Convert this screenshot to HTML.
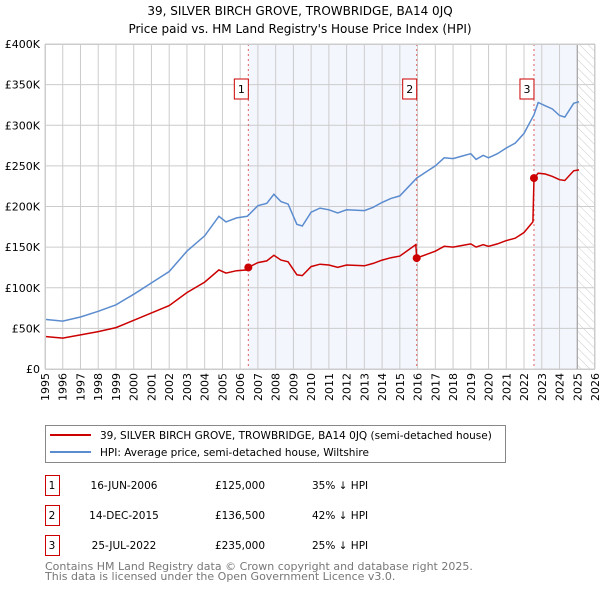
<!DOCTYPE html>
<html><head><meta charset="utf-8"><style>
body{margin:0;background:#fff;font-family:"DejaVu Sans","Liberation Sans",sans-serif;}
svg text{font-family:"DejaVu Sans","Liberation Sans",sans-serif;}
</style></head><body>
<svg id="c" width="600" height="590" viewBox="0 0 600 590" xmlns="http://www.w3.org/2000/svg">
<defs><pattern id="hatch" width="6" height="6" patternUnits="userSpaceOnUse" patternTransform="rotate(-45)"><line x1="0" y1="0" x2="0" y2="6" stroke="#ccc" stroke-width="1"/></pattern></defs>
<text x="300" y="15" text-anchor="middle" font-size="12" fill="#000">39, SILVER BIRCH GROVE, TROWBRIDGE, BA14 0JQ</text>
<text x="300" y="33" text-anchor="middle" font-size="12" fill="#000">Price paid vs. HM Land Registry's House Price Index (HPI)</text>
<g id="plot"></g>
<g>
<rect x="45.5" y="425.5" width="460" height="37" fill="#fff" stroke="#888"/>
<line x1="50" y1="435" x2="91" y2="435" stroke="#cc0000" stroke-width="2"/>
<text x="100" y="439" font-size="10.5">39, SILVER BIRCH GROVE, TROWBRIDGE, BA14 0JQ (semi-detached house)</text>
<line x1="50" y1="452" x2="91" y2="452" stroke="#5b8ccf" stroke-width="2"/>
<text x="100" y="456" font-size="10.5">HPI: Average price, semi-detached house, Wiltshire</text>
</g>
<g id="table" font-size="10.5"></g>
<text x="45" y="570" font-size="11" fill="#777">Contains HM Land Registry data © Crown copyright and database right 2025.</text>
<text x="45" y="580" font-size="11" fill="#777">This data is licensed under the Open Government Licence v3.0.</text>
</svg>
<script>
const hpiYears=[1995,1996,1997,1998,1999,2000,2001,2002,2003,2004,2004.8,2005.2,2005.8,2006.4,2007,2007.5,2007.9,2008.3,2008.7,2009.2,2009.5,2010,2010.5,2011,2011.5,2012,2013,2013.5,2014,2014.5,2015,2015.95,2016.5,2017,2017.5,2018,2018.5,2019,2019.3,2019.7,2020,2020.5,2021,2021.5,2022,2022.56,2022.8,2023.2,2023.6,2024,2024.3,2024.8,2025.1];
const hpiValues=[61,59,64,71,79,92,106,120,145,164,188,181,186,188,201,204,215,206,203,178,176,193,198,196,192,196,195,199,205,210,213,235,243,250,260,259,262,265,258,263,260,265,272,278,290,313,328,324,320,312,310,327,329];
const ppYears=[1995,1996,1997,1998,1999,2000,2001,2002,2003,2004,2004.8,2005.2,2005.8,2006.4,2006.46,2007,2007.5,2007.9,2008.3,2008.7,2009.2,2009.5,2010,2010.5,2011,2011.5,2012,2013,2013.5,2014,2014.5,2015,2015.9,2015.95,2016.5,2017,2017.5,2018,2018.5,2019,2019.3,2019.7,2020,2020.5,2021,2021.5,2022,2022.5,2022.56,2022.8,2023.2,2023.6,2024,2024.3,2024.8,2025.1];
const ppValues=[40,38,42,46,51,60,69,78,94,107,122,118,121,122,125,131,133,140,134,132,116,115,126,129,128,125,128,127,130,134,137,139,153,136.5,141,145,151,150,152,154,150,153,151,154,158,161,168,181,235,241,240,237,233,232,244,245];
const saleYears=[2006.46,2015.95,2022.56];
const saleValues=[125000,136500,235000];
const saleLabels=["1","2","3"];
const saleDates=["16-JUN-2006","14-DEC-2015","25-JUL-2022"];
const salePrices=["£125,000","£136,500","£235,000"];
const saleDiffs=["35% ↓ HPI","42% ↓ HPI","25% ↓ HPI"];
const yTicks=[0,50,100,150,200,250,300,350,400];
const yTickLabels=["£0","£50K","£100K","£150K","£200K","£250K","£300K","£350K","£400K"];
const xTicks=[1995,1996,1997,1998,1999,2000,2001,2002,2003,2004,2005,2006,2007,2008,2009,2010,2011,2012,2013,2014,2015,2016,2017,2018,2019,2020,2021,2022,2023,2024,2025,2026];

const NS="http://www.w3.org/2000/svg";
const L=45,R=595,T=44,B=369;
const xs=y=>L+(y-1995)*(R-L)/31;
const ys=v=>B-v*(B-T)/400;
const plot=document.getElementById('plot');
function mk(tag,attrs,parent){const e=document.createElementNS(NS,tag);for(const k in attrs)e.setAttribute(k,attrs[k]);(parent||plot).appendChild(e);return e;}
const sh1=mk('rect',{x:xs(saleYears[0]),y:T,width:xs(saleYears[1])-xs(saleYears[0]),height:B-T,fill:'#f3f6fd'});


const hatchStart=2025.0;
const sh2=mk('rect',{x:xs(saleYears[2]),y:T,width:xs(hatchStart)-xs(saleYears[2]),height:B-T,fill:'#f3f6fd'});


const hz=mk('rect',{x:xs(hatchStart),y:T,width:R-xs(hatchStart),height:B-T,fill:'url(#hatch)'});


xTicks.forEach(t=>{const g=mk('line',{x1:xs(t),x2:xs(t),y1:T,y2:B,stroke:'#ccc','stroke-width':1});


const tx=mk('text',{x:0,y:0,'font-size':11,'text-anchor':'end',transform:`translate(${xs(t)+4},${B+4}) rotate(-90)`});tx.textContent=t;

});
yTicks.forEach((t,i)=>{const g=mk('line',{x1:L,x2:R,y1:ys(t),y2:ys(t),stroke:'#ccc','stroke-width':1});


const tx=mk('text',{x:L-5,y:ys(t)+4,'font-size':11,'text-anchor':'end'});tx.textContent=yTickLabels[i];

});
const gl=mk('line',{x1:xs(hatchStart),x2:xs(hatchStart),y1:T,y2:B,stroke:'#999','stroke-width':1});


saleYears.forEach((s,i)=>{const v=mk('line',{x1:xs(s),x2:xs(s),y1:T,y2:B,stroke:'#e06060','stroke-width':1,'stroke-dasharray':'2,3'});


const b=mk('rect',{x:xs(s)-14,y:79,width:14,height:20,fill:'#fff',stroke:'#c00','stroke-width':1});


const t=mk('text',{x:xs(s)-7,y:93,'font-size':11,'text-anchor':'middle'});t.textContent=saleLabels[i];

});
const hp=mk('path',{d:hpiYears.map((y,i)=>(i?'L':'M')+xs(y).toFixed(1)+','+ys(hpiValues[i]).toFixed(1)).join(''),fill:'none',stroke:'#5b8ccf','stroke-width':1.5});


const pp=mk('path',{d:ppYears.map((y,i)=>(i?'L':'M')+xs(y).toFixed(1)+','+ys(ppValues[i]).toFixed(1)).join(''),fill:'none',stroke:'#cc0000','stroke-width':1.5});


saleYears.forEach((s,i)=>{const c=mk('circle',{cx:xs(s),cy:ys(saleValues[i]/1000),r:4,fill:'#cc0000'});

});
const fr=mk('rect',{x:L+0.5,y:T+0.5,width:R-L-1,height:B-T,fill:'none',stroke:'#ccc'});


const tb=document.getElementById('table');
saleLabels.forEach((l,i)=>{const y=483+i*30;
const b=mk('rect',{x:45.5,y:y-7.5,width:14,height:20,fill:'#fff',stroke:'#c00'},tb);


const cells=[[52,l,'middle'],[124,saleDates[i],'middle'],[240,salePrices[i],'middle'],[312,saleDiffs[i],'start']];
cells.forEach(c=>{const t=mk('text',{x:c[0],y:y+6,'text-anchor':c[2]},tb);t.textContent=c[1];

});});
</script>
</body></html>
